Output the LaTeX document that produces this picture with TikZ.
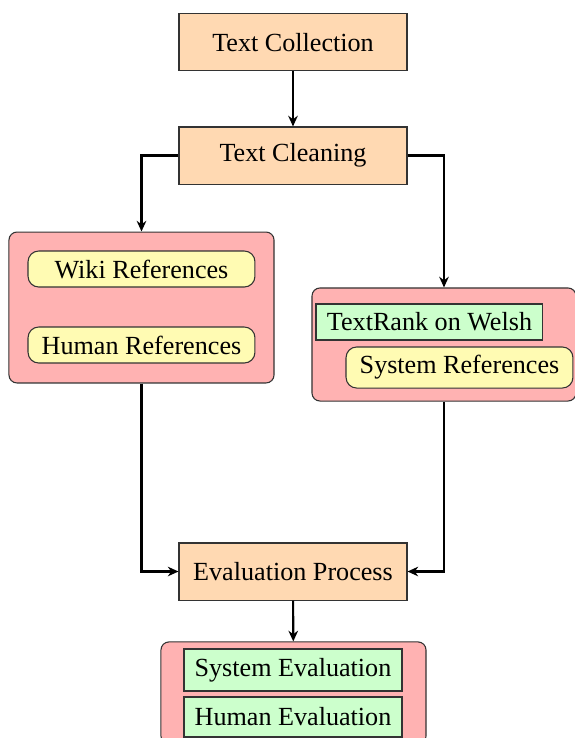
\documentclass[tikz,border=0pt]{standalone}
\usepackage{fontspec}
\setmainfont{Liberation Serif}
\usetikzlibrary{arrows.meta}
\tikzset{
  every node/.style={font=\fontsize{9.8}{12}\selectfont, inner sep=0pt, text=black},
  mainbox/.style={draw=black!80, fill=orange!30, minimum width=85.5pt, minimum height=21.4pt},
  groupbox/.style={draw=black!80, fill=red!30, rounded corners=3pt},
  refbox/.style={draw=black!80, fill=yellow!30, rounded corners=4pt, minimum width=85.1pt},
  greenbox/.style={draw=black!80, fill=green!20},
  conn/.style={thick, -{Stealth[length=4pt,width=3.6pt]}}
}
\begin{document}
\begin{tikzpicture}[x=0.375pt,y=-0.375pt]
\useasboundingbox (0,0) rectangle (574,738);
% main column
\node[mainbox] (tc) at (293,42.3) {Text Collection};
\node[mainbox] (clean) at (293,155.5) {Text Cleaning};
% left group
\node[groupbox, minimum width=99.4pt, minimum height=56.6pt] (lgrp) at (141.5,307.5) {};
\node[refbox, minimum height=13.5pt] (wiki) at (141.5,269) {Wiki References};
\node[refbox, minimum height=13.5pt] (human) at (141.5,345) {Human References};
% right group
\node[groupbox, minimum width=99pt, minimum height=42.4pt] (rgrp) at (444,344.5) {};
\node[greenbox, minimum width=85.1pt, minimum height=13.5pt] (tr) at (429.5,322) {TextRank on Welsh};
\node[refbox, minimum height=15.4pt] (sysref) at (459.5,367.5) {System References};
% evaluation
\node[mainbox] (eval) at (293,571.5) {Evaluation Process};
\node[groupbox, minimum width=99.4pt, minimum height=38.3pt] (bgrp) at (293.5,693) {};
\node[greenbox, minimum width=81.75pt, minimum height=15.75pt] (syseval) at (293,670) {System Evaluation};
\node[greenbox, minimum width=81.75pt, minimum height=15pt] (humeval) at (293,717) {Human Evaluation};
% connectors
\draw[conn] (tc) -- (clean);
\draw[conn] (clean.west) -| (lgrp.north);
\draw[conn] (clean.east) -| (rgrp.north);
\draw[conn] (lgrp.south) |- (eval.west);
\draw[conn] (rgrp.south) |- (eval.east);
\draw[conn] (eval) -- (bgrp);
\end{tikzpicture}
\end{document}
